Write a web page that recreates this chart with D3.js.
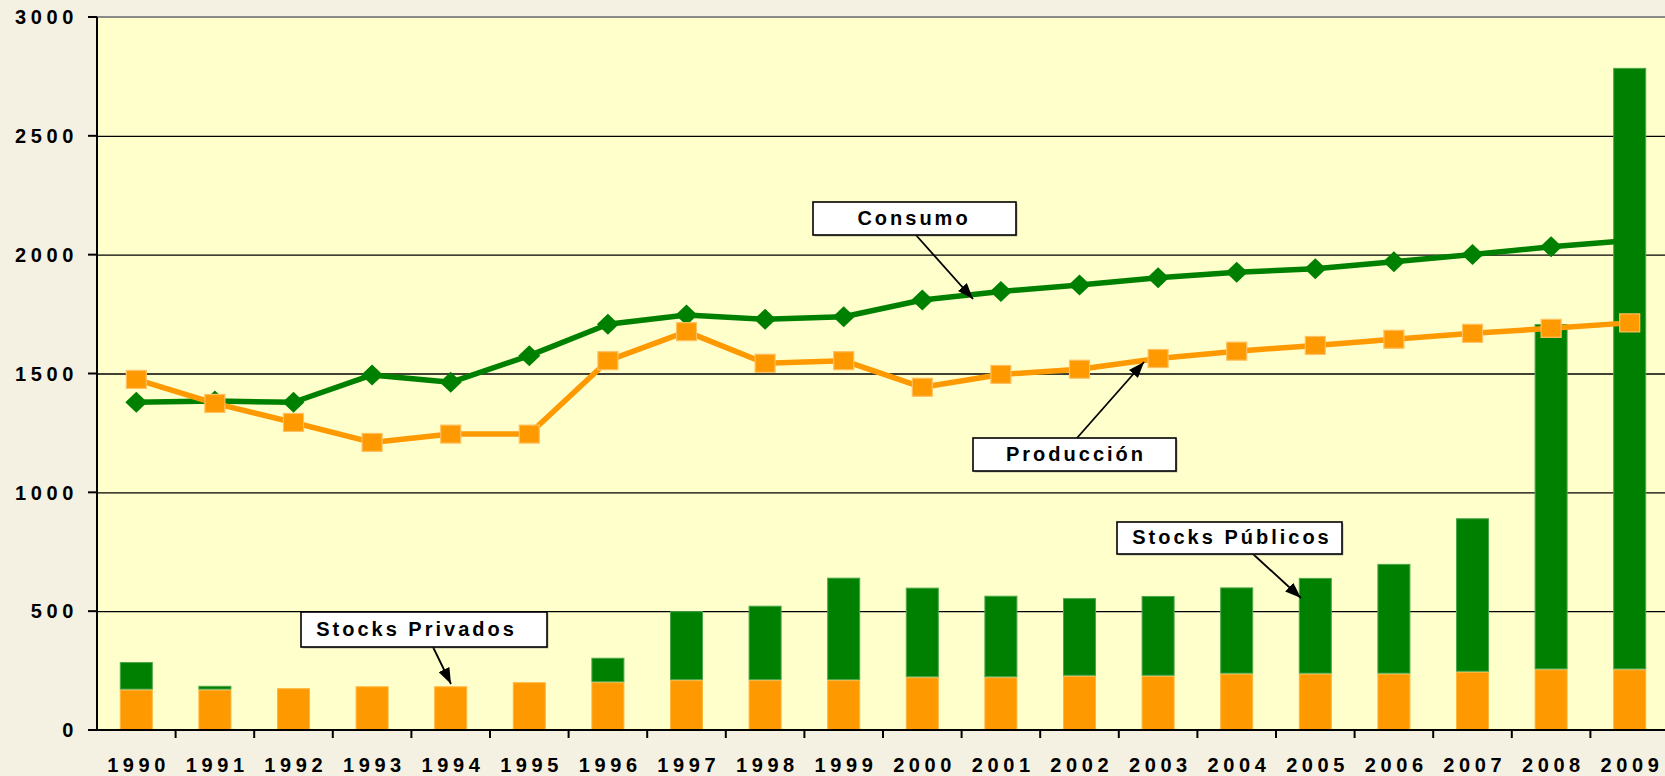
<!DOCTYPE html>
<html>
<head>
<meta charset="utf-8">
<script src="https://cdn.jsdelivr.net/npm/d3@7"></script>
<style>
  html, body { margin: 0; padding: 0; background: #F5F1E2; overflow: hidden; }
  svg { display: block; }
  text { font-family: "Liberation Sans", Arial, sans-serif; font-weight: bold; fill: #000; }
</style>
</head>
<body>
<svg id="chart" width="1665" height="776"></svg>
<script>
// ---- data ----
const years = ["1990","1991","1992","1993","1994","1995","1996","1997","1998","1999",
               "2000","2001","2002","2003","2004","2005","2006","2007","2008","2009"];
const stocksPrivados = [170,170,176,184,184,201,201,210,210,210,222,222,228,228,237,237,237,245,255,255];
const stocksTotal    = [286,186,176,184,184,201,304,500,523,641,599,565,555,564,600,640,699,891,1708,2786];
const consumo        = [1379,1384,1379,1494,1463,1575,1707,1746,1728,1739,1809,1845,1872,1903,1926,1941,1970,2001,2033,2060];
const produccion     = [1475,1374,1294,1210,1245,1245,1554,1676,1543,1554,1442,1496,1518,1563,1594,1618,1644,1669,1690,1713];
const yTicks = [0,500,1000,1500,2000,2500,3000];
const stocksPublicos = stocksTotal.map((t,i) => t - stocksPrivados[i]);

// ---- layout ----
const pL = 97, pR = 1669, pT = 17, pB = 730;
const green = "#008000", orange = "#FF9900";

const svg = d3.select("#chart");
const x = d3.scaleBand().domain(years).range([pL, pR]).paddingInner(0).paddingOuter(0);
const xBar = d3.scaleBand().domain(years).range([pL, pR]).paddingInner(0.58).paddingOuter(0.29);
const y = d3.scaleLinear().domain([0, 3000]).range([pB, pT]);
const cx = d => x(d) + x.bandwidth() / 2;

// plot background
svg.append("rect").attr("x", pL).attr("y", pT).attr("width", pR - pL).attr("height", pB - pT)
  .attr("fill", "#FFFFCC");

// gridlines
svg.append("g").selectAll("line").data(yTicks.filter(v => v > 0 && v < 3000)).join("line")
  .attr("x1", pL).attr("x2", pR).attr("y1", d => y(d) + 0.5).attr("y2", d => y(d) + 0.5)
  .attr("stroke", "#000").attr("stroke-width", 1.3);
svg.append("line").attr("x1", pL).attr("x2", pR).attr("y1", y(3000)).attr("y2", y(3000))
  .attr("stroke", "#8a8a8a").attr("stroke-width", 2);

// stacked bars
const stackData = years.map((yr, i) => ({ year: yr, priv: stocksPrivados[i], pub: stocksPublicos[i] }));
const series = d3.stack().keys(["priv", "pub"])(stackData);
const barColors = { priv: orange, pub: green };
const barStroke = { priv: "#FFB640", pub: "#4CA64C" };
svg.append("g").selectAll("g").data(series).join("g")
  .attr("fill", s => barColors[s.key]).attr("stroke", s => barStroke[s.key]).attr("stroke-width", 1)
  .selectAll("rect").data(s => s.filter(d => d[1] - d[0] > 0)).join("rect")
  .attr("x", d => xBar(d.data.year) + 0.5)
  .attr("width", xBar.bandwidth() - 1)
  .attr("y", d => y(d[1]) + 0.5)
  .attr("height", d => Math.max(0, y(d[0]) - y(d[1]) - 1));

// lines
const line = d3.line().x((d, i) => cx(years[i])).y(d => y(d));
svg.append("path").datum(consumo).attr("d", line).attr("fill", "none")
  .attr("stroke", green).attr("stroke-width", 5.5).attr("stroke-linejoin", "round");
svg.append("path").datum(produccion).attr("d", line).attr("fill", "none")
  .attr("stroke", orange).attr("stroke-width", 5.5).attr("stroke-linejoin", "round");

// markers
svg.append("g").selectAll("path").data(consumo).join("path")
  .attr("transform", (d, i) => `translate(${cx(years[i])},${y(d)})`)
  .attr("d", "M0,-10.5 L11,0 L0,10.5 L-11,0 Z").attr("fill", green);
svg.append("g").selectAll("rect").data(produccion).join("rect")
  .attr("x", (d, i) => cx(years[i]) - 10).attr("y", d => y(d) - 9)
  .attr("width", 20).attr("height", 18)
  .attr("fill", orange).attr("stroke", "#FFC060").attr("stroke-width", 1.2);

// axes
svg.append("line").attr("x1", pL).attr("x2", pL).attr("y1", pT).attr("y2", pB + 1)
  .attr("stroke", "#000").attr("stroke-width", 2);
svg.append("line").attr("x1", pL - 9).attr("x2", pR).attr("y1", pB).attr("y2", pB)
  .attr("stroke", "#000").attr("stroke-width", 2);
// y ticks
svg.append("g").selectAll("line").data(yTicks).join("line")
  .attr("x1", pL - 9).attr("x2", pL).attr("y1", d => y(d)).attr("y2", d => y(d))
  .attr("stroke", "#000").attr("stroke-width", 2);
svg.append("g").selectAll("text").data(yTicks).join("text")
  .attr("x", 78).attr("y", d => y(d) + 2)
  .attr("text-anchor", "end").attr("dominant-baseline", "middle")
  .style("font-size", "20px").style("letter-spacing", "4.6px")
  .text(d => d);
// x ticks at boundaries
const bounds = years.map(yr => x(yr)).concat([pR]).slice(1);
svg.append("g").selectAll("line").data(bounds).join("line")
  .attr("x1", d => d).attr("x2", d => d).attr("y1", pB).attr("y2", pB + 8)
  .attr("stroke", "#000").attr("stroke-width", 2);
svg.append("g").selectAll("text").data(years).join("text")
  .attr("x", d => cx(d) + 2.3).attr("y", 771.5)
  .attr("text-anchor", "middle")
  .style("font-size", "20px").style("letter-spacing", "4.6px")
  .text(d => d);

// annotations
const defs = svg.append("defs");
defs.append("marker").attr("id", "arrow").attr("viewBox", "0 0 16 12")
  .attr("refX", 16).attr("refY", 6).attr("markerWidth", 16).attr("markerHeight", 12)
  .attr("markerUnits", "userSpaceOnUse").attr("orient", "auto")
  .append("path").attr("d", "M0,0 L16,6 L0,12 Z").attr("fill", "#000");

const annotations = [
  { label: "Consumo",          box: [813, 202, 203, 33], from: [915, 234], to: [973, 299], dx: -2 },
  { label: "Producción",       box: [973, 438, 203, 33], from: [1077, 438], to: [1144, 362], dx: 0 },
  { label: "Stocks Públicos",  box: [1117, 522, 225, 32], from: [1253, 554], to: [1301, 598], dx: 1 },
  { label: "Stocks Privados",  box: [301, 612, 246, 35], from: [433, 647], to: [451, 684], dx: -9 }
];
const ag = svg.append("g");
annotations.forEach(a => {
  ag.append("line").attr("x1", a.from[0]).attr("y1", a.from[1]).attr("x2", a.to[0]).attr("y2", a.to[1])
    .attr("stroke", "#000").attr("stroke-width", 1.8).attr("marker-end", "url(#arrow)");
  ag.append("rect").attr("x", a.box[0] + 1.5).attr("y", a.box[1] + 1.5).attr("width", a.box[2]).attr("height", a.box[3])
    .attr("fill", "#777").attr("opacity", 0.5);
  ag.append("rect").attr("x", a.box[0]).attr("y", a.box[1]).attr("width", a.box[2]).attr("height", a.box[3])
    .attr("fill", "#fff").attr("stroke", "#000").attr("stroke-width", 1.6);
  ag.append("text").attr("x", a.box[0] + a.box[2] / 2 + 1.5 + a.dx).attr("y", a.box[1] + a.box[3] / 2 + 1)
    .attr("text-anchor", "middle").attr("dominant-baseline", "middle")
    .style("font-size", "20px").style("letter-spacing", "3px")
    .text(a.label);
});
</script>
</body>
</html>
